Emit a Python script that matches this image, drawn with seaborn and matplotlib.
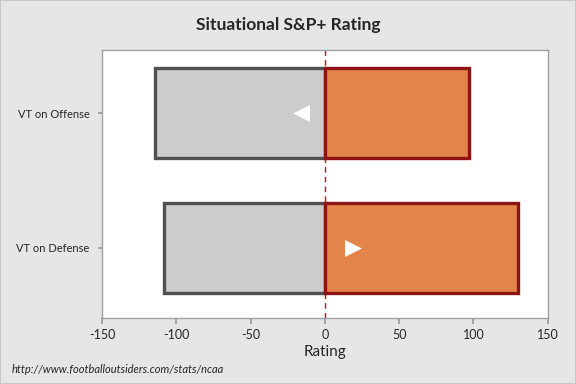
import matplotlib
matplotlib.use("Agg")
import matplotlib.pyplot as plt
import seaborn as sns
import pandas as pd
from matplotlib.patches import Rectangle

categories = ["VT on Offense", "VT on Defense"]
negative_values = [-114, -108]
positive_values = [97, 130]
marker_values = [-16, 19]
marker_shapes = ["<", ">"]
xticks = [-150, -100, -50, 0, 50, 100, 150]

sns.set_theme(style="white")
plt.rcParams["font.family"] = ["Lato", "DejaVu Sans"]

fig = plt.figure(figsize=(5.76, 3.84), dpi=100, facecolor="#e6e6e6")
fig.patches.append(Rectangle((0, 0), 1, 1, transform=fig.transFigure, fill=False,
                             edgecolor="#c8c8c8", linewidth=1.5))
ax = fig.add_axes([0.177, 0.172, 0.774, 0.698])
ax.set_facecolor("white")

df_neg = pd.DataFrame({"cat": categories, "val": negative_values})
df_pos = pd.DataFrame({"cat": categories, "val": positive_values})

sns.barplot(data=df_neg, y="cat", x="val", orient="h", ax=ax, color="#cccccc",
            saturation=1, width=0.667, edgecolor="#505050", linewidth=2.4, zorder=2)
sns.barplot(data=df_pos, y="cat", x="val", orient="h", ax=ax, color="#e3854a",
            saturation=1, width=0.667, edgecolor="#8e1414", linewidth=2.4, zorder=2)

for i, (v, m) in enumerate(zip(marker_values, marker_shapes)):
    ax.scatter([v], [i], marker=m, s=150, color="white", zorder=5, linewidths=0)

ax.axvline(0, color="#dd0000", linestyle=(0, (4, 3)), linewidth=1, zorder=1)

ax.set_xlim(-150, 150)
ax.set_ylim(1.52, -0.47)
ax.set_xticks(xticks)
ax.set_xticklabels([str(t) for t in xticks], fontsize=9)
ax.tick_params(axis="y", labelsize=8, length=3, color="#999999", left=True, pad=6)
ax.tick_params(axis="x", length=4, color="#999999", bottom=True, pad=4)
ax.set_ylabel("")
ax.set_xlabel("Rating", fontsize=11, labelpad=3)
for s in ax.spines.values():
    s.set_color("#a0a0a0")
    s.set_linewidth(1)

fig.text(0.5, 0.935, "Situational S&P+ Rating", ha="center", va="center",
         fontsize=12.5, fontweight="bold")
fig.text(0.021, 0.038, "http://www.footballoutsiders.com/stats/ncaa", ha="left",
         va="center", fontsize=8, style="italic")

fig.savefig("out.png", dpi=100, facecolor=fig.get_facecolor())
